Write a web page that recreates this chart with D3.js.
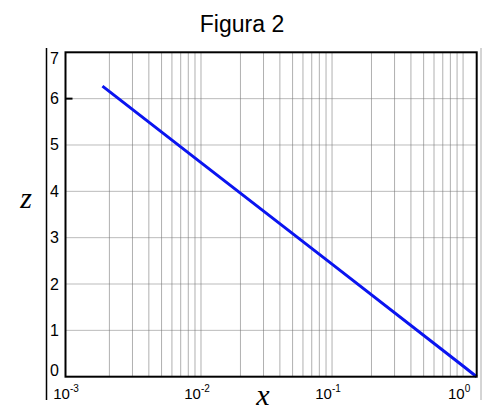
<!DOCTYPE html>
<html>
<head>
<meta charset="utf-8">
<script src="https://cdn.jsdelivr.net/npm/d3@7"></script>
<style>
  body { margin: 0; background: #fff; }
  svg { display: block; }
</style>
</head>
<body>
<script>
// values
var xVals = [0.00177, 0.01, 0.1, 1, 1.27];
var zVals = [6.27, 4.62, 2.43, 0.23, 0];
var zTicks = [0, 1, 2, 3, 4, 5, 6, 7];
var xDecades = [-3, -2, -1, 0];

var width = 489, height = 413;
var plotL = 65.5, plotR = 476.7, plotT = 52.3, plotB = 376.7;

var svg = d3.select('body').append('svg')
    .attr('width', width)
    .attr('height', height);

var x = d3.scaleLog()
    .domain([Math.pow(10, -3.034), Math.pow(10, 0.104)])
    .range([plotL, plotR]);
var y = d3.scaleLinear()
    .domain([0, 7])
    .range([plotB, plotT]);

// vertical grid: 2..10 per decade
var xGrid = [];
xDecades.forEach(function(d) {
    for (var k = 2; k <= 10; k++) {
        var v = k * Math.pow(10, d);
        if (v > x.domain()[0] && v < x.domain()[1]) xGrid.push(v);
    }
});

svg.append('g').selectAll('line')
    .data(xGrid)
    .enter().append('line')
    .attr('x1', function(d) { return x(d); })
    .attr('x2', function(d) { return x(d); })
    .attr('y1', plotT)
    .attr('y2', plotB)
    .attr('stroke', '#b0b0b0')
    .attr('stroke-width', 1);

// horizontal grid (dotted)
svg.append('g').selectAll('line')
    .data(zTicks.filter(function(d) { return d > 0 && d < 7; }))
    .enter().append('line')
    .attr('x1', plotL)
    .attr('x2', plotR)
    .attr('y1', function(d) { return y(d); })
    .attr('y2', function(d) { return y(d); })
    .attr('stroke', '#777')
    .attr('stroke-width', 1)
    .attr('stroke-dasharray', '1,1');

// small tick at 6
svg.append('line')
    .attr('x1', plotL).attr('x2', plotL + 7)
    .attr('y1', y(6)).attr('y2', y(6))
    .attr('stroke', '#000').attr('stroke-width', 2);

// the curve
var line = d3.line()
    .x(function(d, i) { return x(xVals[i]); })
    .y(function(d, i) { return y(zVals[i]); });

svg.append('path')
    .datum(zVals)
    .attr('d', line)
    .attr('fill', 'none')
    .attr('stroke', '#0a14f0')
    .attr('stroke-width', 3);

// plot box
svg.append('rect')
    .attr('x', plotL).attr('y', plotT)
    .attr('width', plotR - plotL).attr('height', plotB - plotT)
    .attr('fill', 'none')
    .attr('stroke', '#000')
    .attr('stroke-width', 2);

// outer frame lines
svg.append('line')
    .attr('x1', 46.5).attr('x2', 46.5).attr('y1', 48).attr('y2', 400)
    .attr('stroke', '#000').attr('stroke-width', 1.5);
svg.append('line')
    .attr('x1', 481).attr('x2', 481).attr('y1', 48).attr('y2', 400)
    .attr('stroke', '#aaa').attr('stroke-width', 1);

// y tick labels
svg.append('g').selectAll('text')
    .data(zTicks)
    .enter().append('text')
    .attr('x', 50)
    .attr('y', function(d) { return Math.min(Math.max(y(d), plotT + 6), plotB - 6) + 5.5; })
    .attr('font-family', 'Liberation Sans, Arial, sans-serif')
    .attr('font-size', 16)
    .text(function(d) { return d; });

// x tick labels
var xl = svg.append('g').selectAll('text')
    .data(xDecades)
    .enter().append('text')
    .attr('x', function(d) { return Math.max(x(Math.pow(10, d)), 70) - 4; })
    .attr('y', 399)
    .attr('text-anchor', 'middle')
    .attr('font-family', 'Liberation Sans, Arial, sans-serif')
    .attr('font-size', 15);
xl.append('tspan').text('10');
xl.append('tspan')
    .attr('dy', -7)
    .attr('font-size', 10)
    .text(function(d) { return d; });

// title and axis labels
svg.append('text')
    .attr('x', 242).attr('y', 32)
    .attr('text-anchor', 'middle')
    .attr('font-family', 'Liberation Sans, Arial, sans-serif')
    .attr('font-size', 23)
    .text('Figura 2');

svg.append('text')
    .attr('x', 26).attr('y', 208)
    .attr('text-anchor', 'middle')
    .attr('font-family', 'Liberation Serif, Times New Roman, serif')
    .attr('font-style', 'italic')
    .attr('font-size', 30)
    .text('z');

svg.append('text')
    .attr('x', 263).attr('y', 405)
    .attr('text-anchor', 'middle')
    .attr('font-family', 'Liberation Serif, Times New Roman, serif')
    .attr('font-style', 'italic')
    .attr('font-size', 30)
    .text('x');
</script>
</body>
</html>
